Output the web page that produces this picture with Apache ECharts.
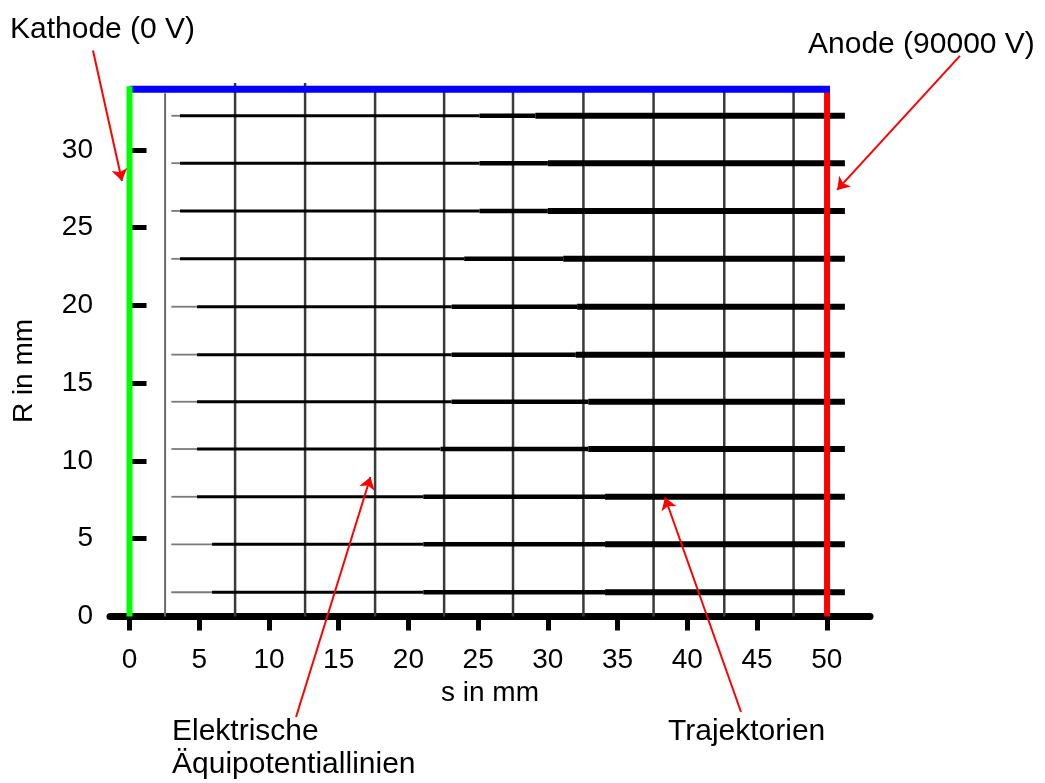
<!DOCTYPE html>
<html>
<head>
<meta charset="utf-8">
<script src="https://cdn.jsdelivr.net/npm/echarts@6/dist/echarts.min.js"></script>
<style>
html,body{margin:0;padding:0;background:#fff;}
#chart{width:1045px;height:783px;}
</style>
</head>
<body>
<div id="chart"></div>
<script>
// ---- data (mm) ----
const sTicks = [0, 5, 10, 15, 20, 25, 30, 35, 40, 45, 50];
const rTicks = [0, 5, 10, 15, 20, 25, 30];

// equipotential lines: s position and top R
const equiS   = [2.55, 7.57, 12.59, 17.61, 22.56, 27.5, 32.55, 37.58, 42.65, 47.62];
const equiTop = [33.65, 34.3, 34.3, 33.9, 33.9, 33.9, 33.9, 33.9, 33.9, 33.9];

// trajectories: radius and breakpoints in s where the trace thickens
const trajR      = [32.2, 29.15, 26.08, 23.0, 19.92, 16.84, 13.81, 10.77, 7.70, 4.64, 1.56];
const trajStart  = [3.0, 3.0, 3.0, 3.0, 3.0, 3.0, 3.0, 3.0, 3.0, 3.0, 3.0];
const trajStage2 = [3.62, 3.62, 3.62, 3.62, 4.84, 4.84, 4.84, 4.84, 4.84, 5.92, 5.92];
const trajStage3 = [25.1, 25.1, 25.1, 24.0, 23.1, 23.1, 23.1, 22.3, 21.07, 21.07, 21.07];
const trajStage4 = [29.1, 30.0, 30.0, 31.1, 32.1, 32.0, 32.9, 32.9, 34.1, 34.1, 34.1];
const trajEnd    = [51.3, 51.3, 51.3, 51.3, 51.3, 51.3, 51.3, 51.3, 51.3, 51.3, 51.3];

// electrodes
const cathodeS = 0.0,  cathodeTop = 34.1;
const anodeS = 50.02,  anodeTop = 33.9;
const wallR = 33.9,    wallFrom = 0.0, wallTo = 50.23;

// annotation arrows [startS, startR, tipS, tipR]
const arrows = [
  [-2.62, 36.4, -0.54, 28.0],
  [59.55, 36.05, 50.74, 27.43],
  [11.94, -6.46, 17.28, 8.97],
  [43.85, -6.14, 38.4, 7.65]
];

const FONT = '"Liberation Sans", Arial, sans-serif';
const series = [];

function seg(data, color, width, z) {
  return {
    type: 'line', data: data, showSymbol: false, symbol: 'none', silent: true,
    animation: false, z: z, clip: false,
    lineStyle: { color: color, width: width, cap: 'butt' }
  };
}

// equipotentials
equiS.forEach((s, i) => {
  series.push(seg([[s, 0], [s, equiTop[i]]], i === 0 ? '#6a6a6a' : '#3a3a3a', i === 0 ? 2 : 2.5, 2));
});

// trajectories
const stageColors = ['#7a7a7a', '#000', '#000', '#000'];
const stageWidths = [1.8, 3, 4.5, 6];
trajR.forEach((r, i) => {
  const bps = [trajStart[i], trajStage2[i], trajStage3[i], trajStage4[i], trajEnd[i]];
  for (let k = 0; k < 4; k++) {
    series.push(seg([[bps[k], r], [bps[k + 1], r]], stageColors[k], stageWidths[k], 3));
  }
});

// electrodes
series.push(seg([[anodeS, 0], [anodeS, anodeTop]], '#ff0000', 6, 4));
series.push(seg([[wallFrom, wallR], [wallTo, wallR]], '#0000ff', 7, 5));
series.push(seg([[cathodeS, 0], [cathodeS, cathodeTop]], '#00ff00', 6, 6));

// arrows
series.push({
  type: 'lines', coordinateSystem: 'cartesian2d', silent: true, animation: false, clip: false, z: 10,
  symbol: ['none', 'arrow'], symbolSize: 12,
  lineStyle: { color: '#ff0000', width: 2, opacity: 1 },
  data: arrows.map(a => ({ coords: [[a[0], a[1]], [a[2], a[3]]] }))
});

const chart = echarts.init(document.getElementById('chart'), null, { renderer: 'canvas' });
chart.setOption({
  backgroundColor: '#fff',
  animation: false,
  grid: { left: 110, right: 175, top: 80, bottom: 166.5, containLabel: false },
  xAxis: {
    type: 'value', min: -1.4, max: 53.1,
    name: 's in mm', nameLocation: 'middle', nameGap: 58,
    nameTextStyle: { fontSize: 28, color: '#000', fontFamily: FONT },
    axisLine: { show: true, onZero: false, lineStyle: { color: '#000', width: 7 } },
    axisTick: { show: true, length: 14, lineStyle: { color: '#000', width: 5 }, customValues: sTicks },
    axisLabel: { fontSize: 28, color: '#000', fontFamily: FONT, margin: 30, customValues: sTicks },
    splitLine: { show: false }
  },
  yAxis: {
    type: 'value', min: 0, max: 34.5,
    axisLine: { show: false },
    axisTick: { show: true, inside: true, length: 17, lineStyle: { color: '#000', width: 5 }, customValues: rTicks },
    axisLabel: { fontSize: 28, color: '#000', fontFamily: FONT, margin: 17, customValues: rTicks },
    splitLine: { show: false }
  },
  graphic: [
    { type: 'text', left: 10, top: 15, style: { text: 'Kathode (0 V)', font: '30px ' + FONT, fill: '#000' } },
    { type: 'text', left: 808, top: 30, style: { text: 'Anode (90000 V)', font: '30px ' + FONT, fill: '#000' } },
    { type: 'text', left: 172, top: 717, style: { text: 'Elektrische', font: '30px ' + FONT, fill: '#000' } },
    { type: 'text', left: 172, top: 750, style: { text: 'Äquipotentiallinien', font: '30px ' + FONT, fill: '#000' } },
    { type: 'text', left: 668, top: 717, style: { text: 'Trajektorien', font: '30px ' + FONT, fill: '#000' } },
    { type: 'text', x: 24, y: 371, rotation: Math.PI / 2,
      style: { text: 'R in mm', font: '28px ' + FONT, fill: '#000', align: 'center', verticalAlign: 'middle' } }
  ],
  series: series
});
</script>
</body>
</html>
